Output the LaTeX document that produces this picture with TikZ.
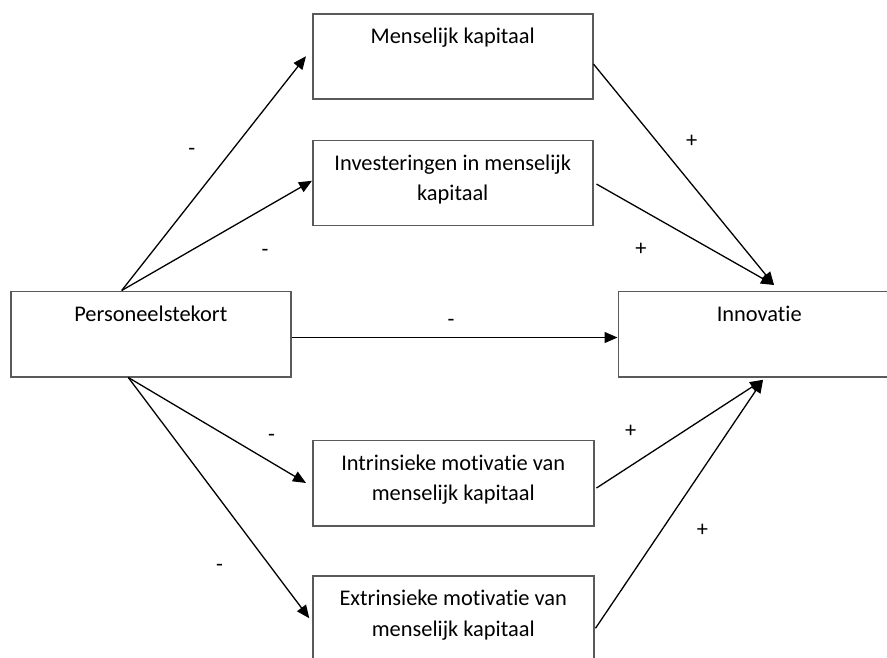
\documentclass[tikz,border=0pt]{standalone}
\usepackage{fontspec}
\setmainfont{Carlito}[Ligatures={NoCommon,NoContextual}]
\usetikzlibrary{arrows.meta,calc}
\definecolor{boxgray}{RGB}{90,90,90}
\begin{document}
\begin{tikzpicture}[x=1pt,y=-1pt,
  box/.style={draw=boxgray, line width=1.5pt, minimum width=280pt, minimum height=85pt, anchor=north west, inner sep=0pt},
  txt/.style={anchor=north, inner sep=0pt, align=center, font=\fontsize{22.4}{30.5}\selectfont},
  sign/.style={anchor=base, inner sep=0pt, font=\fontsize{22.4}{26}\selectfont},
  arr/.style={draw=black, line width=1.3pt, -{Triangle[length=13pt,width=11pt]}}]
\useasboundingbox (0,0) rectangle (887,657);
\clip (0,0) rectangle (887,657);

% boxes
\node[box] (m) at (312,13) {};
\node[box] (i) at (312,139.5) {};
\node[box, minimum height=85.5pt] (p) at (10,290.5) {};
\node[box, minimum width=300pt, minimum height=85.5pt] (n) at (617.5,290.5) {};
\node[box, minimum width=281pt, minimum height=85.5pt] (a) at (312,439.5) {};
\node[box, minimum width=281pt] (e) at (312,575) {};

% texts
\node[txt] (mt) at ([yshift=-10.5pt]m.north) {\rule{0pt}{20pt}Menselijk kapitaal};
\node[txt] (it) at ([yshift=-10.5pt]i.north) {\rule{0pt}{20pt}Investeringen in menselijk\\kapitaal};
\node[txt] (pt) at ([yshift=-11pt]p.north) {\rule{0pt}{20pt}Personeelstekort};
\node[txt] (nt) at ([xshift=-9pt,yshift=-11pt]n.north) {\rule{0pt}{20pt}Innovatie};
\node[txt] (at) at ([yshift=-10.5pt]a.north) {\rule{0pt}{20pt}Intrinsieke motivatie van\\menselijk kapitaal};
\node[txt] (et) at ([yshift=-10.5pt]e.north) {\rule{0pt}{20pt}Extrinsieke motivatie van\\menselijk kapitaal};

% connectors
\draw[arr] ([xshift=111.7pt]p.north west) -- ([xshift=-6pt]m.west);
\draw[arr] ([xshift=111.7pt]p.north west) -- ([yshift=2pt]i.west);
\draw[arr] ([yshift=-3.5pt]p.east) -- ([yshift=-3.5pt]n.west);
\draw[arr] ([xshift=118.3pt]p.south west) -- ([xshift=-6pt]a.west);
\draw[arr] ([xshift=118.3pt]p.south west) -- ([xshift=-2.7pt]e.west);
\draw[arr] ([yshift=-7.8pt]m.east) -- ([xshift=5.8pt,yshift=5.5pt]n.north);
\draw[arr] ([xshift=3pt,yshift=-1.3pt]i.east) -- ([xshift=5.8pt,yshift=5.5pt]n.north);
\draw[arr] ([xshift=2pt,yshift=-5pt]a.east) -- ([xshift=-5.2pt,yshift=-2.3pt]n.south);
\draw[arr] ([xshift=1pt,yshift=-10pt]e.east) -- ([xshift=-5.2pt,yshift=-2.3pt]n.south);

% signs
\node[sign] (s1) at (191.7,155.3) {-};
\node[sign] (s2) at (265,256) {-};
\node[sign] (s3) at (451,326) {-};
\node[sign] (s4) at (271.5,441) {-};
\node[sign] (s5) at (219.5,571) {-};
\node[sign] (s6) at (691.7,147) {+};
\node[sign] (s7) at (641,255.3) {+};
\node[sign] (s8) at (630.7,437.7) {+};
\node[sign] (s9) at (702.5,536) {+};
\end{tikzpicture}
\end{document}
